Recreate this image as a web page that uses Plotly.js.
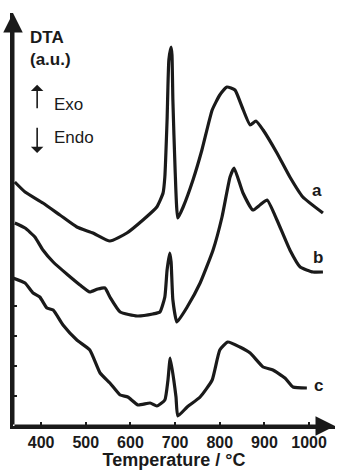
<!DOCTYPE html>
<html>
<head>
<meta charset="utf-8">
<script src="https://cdn.plot.ly/plotly-3.0.1.min.js"></script>
<style>html,body{margin:0;padding:0;background:#fff;}#chart{width:339px;height:470px;}</style>
</head>
<body>
<div id="chart"></div>
<script>
// Temperature (°C) and DTA signal (a.u., offset curves)
const tempA = [341,364,404,442,480,516,554,592,628,659,673,677,682,686,691,693,695,700,706,718,740,760,783,800,816,834,850,868,881,897,928,957,986,1031];
const dtaA  = [244,234,223,211,199,193,185,193,206,219,233,249,306,366,379,371,326,256,208,219,246,276,316,331,339,336,319,301,305,296,273,249,229,213];

const tempB = [341,364,386,404,427,460,487,509,527,543,554,577,615,650,666,677,682,688,691,695,704,727,756,785,805,823,832,852,874,890,906,928,957,980,1009,1031];
const dtaB  = [203,198,189,176,164,151,141,134,137,138,129,114,110,112,114,129,156,173,164,126,104,119,143,176,209,249,258,233,216,221,226,206,176,159,154,154];

const tempC = [337,364,382,397,413,427,449,480,509,532,554,577,594,617,644,659,677,684,689,697,702,706,727,756,783,800,818,845,868,897,919,946,964,995];
const dtaC  = [148,143,133,129,118,116,101,86,76,53,43,31,29,21,23,20,26,46,68,46,29,10,19,29,46,76,84,79,73,59,56,48,39,38];

const seriesLabels = ['a','b','c'];
const labelTemp = [1018,1020,1020];
const labelDta  = [236,169,41];

const xTicks = [400,500,600,700,800,900,1000];
const yTicks = [30,60,90,120];

const FAM = 'Liberation Sans, Arial, sans-serif';
const INK = '#1a1a1a';
const line = {color:INK, width:3.2, shape:'spline', smoothing:0.45};
const traces = [
  {x:tempA, y:dtaA, mode:'lines', line:line, name:'a', hoverinfo:'skip'},
  {x:tempB, y:dtaB, mode:'lines', line:line, name:'b', hoverinfo:'skip'},
  {x:tempC, y:dtaC, mode:'lines', line:line, name:'c', hoverinfo:'skip'}
];

const annotations = seriesLabels.map((s,i)=>({
  x:labelTemp[i], y:labelDta[i], xref:'x', yref:'y', text:'<b>'+s+'</b>', showarrow:false,
  font:{family:FAM, size:17, color:INK}, xanchor:'center', yanchor:'middle'
}));
// axis arrows
annotations.push({x:1058, y:0, ax:337, ay:0, xref:'x', yref:'y', axref:'x', ayref:'y', text:'', showarrow:true, arrowhead:2, arrowsize:1.3, arrowwidth:3, arrowcolor:INK});
annotations.push({x:337, y:413, ax:337, ay:0, xref:'x', yref:'y', axref:'x', ayref:'y', text:'', showarrow:true, arrowhead:2, arrowsize:1.3, arrowwidth:3, arrowcolor:INK});
// axis break mark
annotations.push({x:353, y:-2, xref:'x', yref:'y', text:'<b>ʃ</b>', showarrow:false, font:{family:'DejaVu Sans', size:14, color:INK}});
// DTA label
annotations.push({x:0.0466, y:0.9407, xref:'paper', yref:'paper', text:'<b>DTA</b>', showarrow:false, xanchor:'left', yanchor:'middle', font:{family:FAM, size:17, color:INK}});
annotations.push({x:0.0466, y:0.888, xref:'paper', yref:'paper', text:'<b>(a.u.)</b>', showarrow:false, xanchor:'left', yanchor:'middle', font:{family:FAM, size:17, color:INK}});
annotations.push({x:0.121, y:0.779, xref:'paper', yref:'paper', text:'Exo', showarrow:false, xanchor:'left', yanchor:'middle', font:{family:FAM, size:17, color:INK}});
annotations.push({x:0.121, y:0.699, xref:'paper', yref:'paper', text:'Endo', showarrow:false, xanchor:'left', yanchor:'middle', font:{family:FAM, size:17, color:INK}});
// Exo / Endo arrows
annotations.push({x:0.075, y:0.826, ax:0.075, ay:0.766, xref:'paper', yref:'paper', axref:'paper', ayref:'paper', text:'', showarrow:true, arrowhead:1, arrowsize:1.3, arrowwidth:1.6, arrowcolor:INK});
annotations.push({x:0.075, y:0.661, ax:0.075, ay:0.726, xref:'paper', yref:'paper', axref:'paper', ayref:'paper', text:'', showarrow:true, arrowhead:1, arrowsize:1.3, arrowwidth:1.6, arrowcolor:INK});

const layout = {
  width:339, height:470,
  margin:{l:13, r:4, t:13, b:44},
  paper_bgcolor:'#ffffff', plot_bgcolor:'#ffffff',
  showlegend:false,
  xaxis:{
    range:[337,1058], tickvals:xTicks, ticktext:xTicks.map(v=>'<b>'+v+'</b>'),
    ticks:'inside', ticklen:4, tickwidth:2, tickcolor:INK,
    showline:true, linewidth:3, linecolor:INK, showgrid:false, zeroline:false,
    tickfont:{family:FAM, size:16, color:INK}, ticklabelstandoff:0,
    title:{text:'<b>Temperature / °C</b>', font:{family:FAM, size:18, color:INK}, standoff:4}
  },
  yaxis:{
    range:[0,413], tickvals:yTicks, showticklabels:false,
    ticks:'inside', ticklen:4, tickwidth:2, tickcolor:INK,
    showline:true, linewidth:3, linecolor:INK, showgrid:false, zeroline:false
  },
  annotations:annotations
};

Plotly.newPlot('chart', traces, layout, {displayModeBar:false, staticPlot:true});
</script>
</body>
</html>
